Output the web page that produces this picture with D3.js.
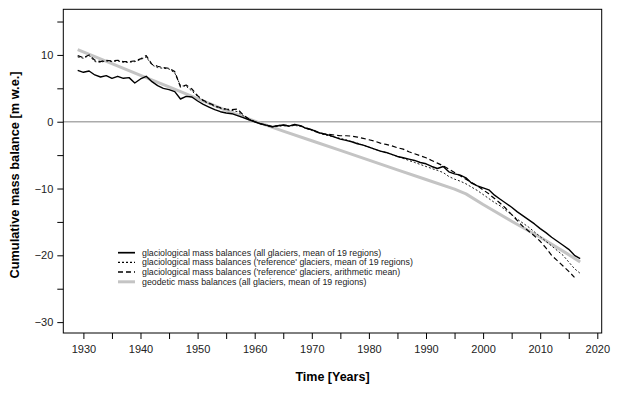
<!DOCTYPE html>
<html>
<head>
<meta charset="utf-8">
<script src="https://cdn.jsdelivr.net/npm/d3@7"></script>
<style>
  body { margin: 0; background: #fff; }
  text { font-family: "Liberation Sans", Arial, sans-serif; }
</style>
</head>
<body>
<div id="chart"></div>
<script>
var years = d3.range(1929, 2018);

// glaciological, all glaciers, mean of 19 regions
var allGlaciers = [7.7, 7.4, 7.6, 7.0, 6.7, 6.9, 6.5, 6.8, 6.5, 6.6,
  5.8, 6.4, 6.8, 6.0, 5.4, 5.0, 4.8, 4.5, 3.4, 3.8,
  3.7, 3.1, 2.6, 2.2, 1.8, 1.5, 1.3, 1.2, 0.9, 0.6,
  0.3, 0.0, -0.3, -0.5, -0.75, -0.6, -0.5, -0.65, -0.4, -0.6,
  -1.0, -1.2, -1.6, -1.8, -2.0, -2.3, -2.6, -2.8, -3.0, -3.3,
  -3.5, -3.8, -4.1, -4.4, -4.6, -4.9, -5.2, -5.4, -5.6, -5.8,
  -6.1, -6.3, -6.7, -7.0, -6.7, -7.5, -7.8, -8.0, -8.4, -9.2,
  -9.6, -9.9, -10.2, -11.0, -11.6, -12.2, -12.8, -13.5, -14.1, -14.7,
  -15.3, -16.0, -16.6, -17.3, -17.9, -18.5, -19.1, -20.0, -20.5];

// glaciological, reference glaciers, mean of 19 regions
var refRegions = [9.7, 9.5, 9.9, 9.0, 8.9, 9.1, 9.0, 9.1, 8.9, 8.9,
  9.0, 9.3, 9.7, 8.5, 8.1, 8.0, 7.9, 7.3, 5.4, 5.3,
  4.6, 3.8, 3.1, 2.7, 2.3, 2.0, 1.8, 1.7, 1.5, 0.9,
  0.4, 0.0, -0.3, -0.55, -0.8, -0.7, -0.6, -0.7, -0.55, -0.7,
  -1.0, -1.3, -1.6, -1.9, -2.1, -2.3, -2.5, -2.7, -3.0, -3.2,
  -3.5, -3.8, -4.1, -4.4, -4.6, -4.9, -5.2, -5.5, -5.8, -6.1,
  -6.4, -6.7, -7.0, -7.3, -7.6, -8.2, -8.6, -8.9, -9.3, -9.8,
  -10.3, -10.9, -11.5, -12.1, -12.6, -13.3, -13.9, -14.6, -15.2, -15.8,
  -16.5, -17.2, -17.9, -18.6, -19.3, -20.0, -21.0, -22.0, -22.7];

// glaciological, reference glaciers, arithmetic mean (ends 2016)
var refArith = [9.9, 9.6, 10.0, 9.2, 9.0, 9.2, 9.1, 9.2, 9.0, 9.0,
  9.1, 9.4, 9.9, 8.6, 8.3, 8.1, 8.0, 7.5, 5.2, 5.5,
  4.9, 3.9, 3.2, 2.8, 2.4, 2.1, 1.9, 1.8, 1.9, 1.0,
  0.4, 0.0, -0.3, -0.5, -0.7, -0.6, -0.5, -0.6, -0.5, -0.6,
  -0.9, -1.2, -1.5, -1.8, -1.9, -2.0, -2.1, -2.1, -2.15, -2.3,
  -2.5, -2.7, -2.9, -3.2, -3.4, -3.6, -3.9, -4.1, -4.5, -4.8,
  -5.1, -5.4, -5.8, -6.2, -6.6, -7.1, -7.6, -8.1, -8.6, -9.1,
  -9.6, -10.2, -10.8, -11.5, -12.2, -13.0, -13.9, -14.8, -15.7, -16.4,
  -17.1, -17.9, -18.9, -20.0, -20.8, -21.6, -22.4, -23.3];

// geodetic, all glaciers, mean of 19 regions
var geoYears = [1929, 1935, 1940, 1945, 1950, 1955, 1960, 1965, 1970, 1975,
  1980, 1985, 1990, 1995, 1997, 2000, 2005, 2010, 2015, 2017];
var geodetic = [10.8, 8.7, 6.95, 5.2, 3.45, 1.7, 0.1, -1.4, -2.85, -4.3,
  -5.75, -7.2, -8.65, -10.1, -10.8, -12.4, -14.9, -17.3, -19.9, -21.0];

var xTicks = d3.range(1930, 2021, 5);
var yTicks = d3.range(-30, 16, 5);

var legendLabels = [
  "glaciological mass balances (all glaciers, mean of 19 regions)",
  "glaciological mass balances ('reference' glaciers, mean of 19 regions)",
  "glaciological mass balances ('reference' glaciers, arithmetic mean)",
  "geodetic mass balances (all glaciers, mean of 19 regions)"
];

var width = 620, height = 395,
    box = {left: 63.3, top: 9.3, right: 601.7, bottom: 333};

var x = d3.scaleLinear().domain([1926.48, 2020.77]).range([box.left, box.right]);
var y = d3.scaleLinear().domain([-31.63, 16.83]).range([box.bottom, box.top]);

var svg = d3.select("#chart").append("svg")
    .attr("width", width)
    .attr("height", height);

// zero line
svg.append("line")
    .attr("x1", box.left).attr("x2", box.right)
    .attr("y1", y(0)).attr("y2", y(0))
    .style("stroke", "#ababab")
    .style("stroke-width", 1.5);

var styles = [
  {color: "#000", width: 1.4, dash: null},
  {color: "#000", width: 0.9, dash: "2,2"},
  {color: "#000", width: 1.2, dash: "5,3"},
  {color: "#c4c4c4", width: 3, dash: null}
];

var series = [
  years.map(function(d, i) { return [d, allGlaciers[i]]; }),
  years.map(function(d, i) { return [d, refRegions[i]]; }),
  refArith.map(function(v, i) { return [years[i], v]; }),
  geoYears.map(function(d, i) { return [d, geodetic[i]]; })
];

var line = d3.line()
    .x(function(d) { return x(d[0]); })
    .y(function(d) { return y(d[1]); });

// draw geodetic first so glaciological lines sit on top
[3, 1, 2, 0].forEach(function(k) {
  svg.append("path")
      .datum(series[k])
      .attr("d", line)
      .style("fill", "none")
      .style("stroke", styles[k].color)
      .style("stroke-width", styles[k].width)
      .style("stroke-dasharray", styles[k].dash)
      .style("stroke-linejoin", "round");
});

// box
svg.append("rect")
    .attr("x", box.left).attr("y", box.top)
    .attr("width", box.right - box.left)
    .attr("height", box.bottom - box.top)
    .style("fill", "none")
    .style("stroke", "#000")
    .style("stroke-width", 1);

// x axis
var xAxis = svg.append("g")
    .attr("transform", "translate(0," + box.bottom + ")")
    .call(d3.axisBottom(x).tickValues(xTicks).tickSize(6).tickPadding(6)
      .tickFormat(function(d) { return d % 10 === 0 ? d : ""; }));
xAxis.select(".domain").remove();
xAxis.selectAll("text").style("font-size", "11px").style("fill", "#222")
    .style("font-family", "Liberation Sans, Arial, sans-serif");

// y axis
var yAxis = svg.append("g")
    .attr("transform", "translate(" + box.left + ",0)")
    .call(d3.axisLeft(y).tickValues(yTicks).tickSize(6).tickPadding(4)
      .tickFormat(function(d) { return d % 10 === 0 ? d3.format("")(d).replace("-", "\u2212") : ""; }));
yAxis.select(".domain").remove();
yAxis.selectAll("text").style("font-size", "11px").style("fill", "#222")
    .style("font-family", "Liberation Sans, Arial, sans-serif");

// axis titles
svg.append("text")
    .attr("x", (box.left + box.right) / 2)
    .attr("y", 381)
    .attr("text-anchor", "middle")
    .style("font-size", "12.5px")
    .style("font-weight", "bold")
    .text("Time [Years]");

svg.append("text")
    .attr("transform", "translate(19," + 175 + ") rotate(-90)")
    .attr("text-anchor", "middle")
    .style("font-size", "12.8px")
    .style("font-weight", "bold")
    .text("Cumulative mass balance [m w.e.]");

// legend
var legend = svg.append("g").attr("transform", "translate(118,252.7)");
legendLabels.forEach(function(label, i) {
  var g = legend.append("g").attr("transform", "translate(0," + (i * 9.7) + ")");
  g.append("line")
      .attr("x1", 0).attr("x2", 17)
      .style("stroke", styles[i].color)
      .style("stroke-width", i === 3 ? 3 : styles[i].width + 0.3)
      .style("stroke-dasharray", styles[i].dash);
  g.append("text")
      .attr("x", 24).attr("y", 3)
      .style("font-size", "8.8px")
      .style("fill", "#222")
      .text(label);
});
</script>
</body>
</html>
